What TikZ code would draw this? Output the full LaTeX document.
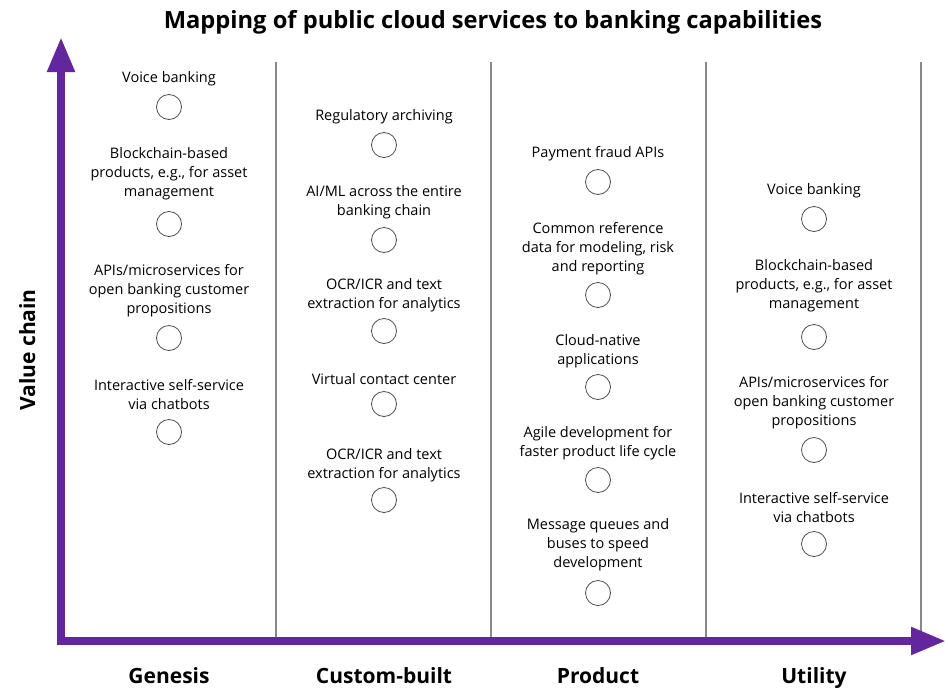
\documentclass[tikz,border=0pt]{standalone}
\usepackage{fontspec}
\setmainfont{Open Sans}
\usetikzlibrary{arrows.meta}
\definecolor{axispurple}{RGB}{99,38,158}
\definecolor{rulegray}{RGB}{136,136,136}
\begin{document}
\begin{tikzpicture}
		[x=1pt,y=-1pt,
		textstyle/.style={align=center,inner sep=0pt,font=\fontsize{14.5}{19}\selectfont},
		spot/.style={circle,draw=black!70,line width=0.8pt,inner sep=0pt,minimum size=25pt},
		heading/.style={inner sep=0pt,anchor=base,font=\fontsize{23.7}{28}\selectfont\bfseries},
		stage/.style={inner sep=0pt,anchor=base,font=\fontsize{21}{25}\selectfont\bfseries},
		divider/.style={rulegray,line width=1.2pt},
		axis/.style={axispurple,line width=8pt}]
		\useasboundingbox (0,0) rectangle (948,689);
		\node at (493, 28) (title) [heading] {Mapping of public cloud services to banking capabilities};
		% column dividers
		\coordinate (d1top) at (276, 62); \coordinate (d1bot) at (276, 641);
		\coordinate (d2top) at (491, 62); \coordinate (d2bot) at (491, 641);
		\coordinate (d3top) at (706, 62); \coordinate (d3bot) at (706, 641);
		\coordinate (d4top) at (921, 62); \coordinate (d4bot) at (921, 641);
		\draw[divider] (d1top) -- (d1bot);
		\draw[divider] (d2top) -- (d2bot);
		\draw[divider] (d3top) -- (d3bot);
		\draw[divider] (d4top) -- (d4bot);
		% axes
		\coordinate (origin) at (61, 645);
		\coordinate (ytip) at (61, 37);
		\coordinate (xstart) at (57, 641);
		\coordinate (xtip) at (946, 641);
		\draw[axis,-{Triangle[width=26pt,length=35pt]}] (origin) -- (ytip);
		\draw[axis,-{Triangle[width=26pt,length=35pt]}] (xstart) -- (xtip);
		\node at (35, 350) (valuechain) [stage,rotate=90] {Value chain};
		\node at (169, 683) (genesis) [stage] {Genesis};
		\node at (384, 683) (custom) [stage] {Custom-built};
		\node at (598, 683) (product) [stage] {Product};
		\node at (814, 683) (utility) [stage] {Utility};
		% Genesis
		\node at (169, 79) (g1) [textstyle] {Voice banking};
		\node at (169, 107) (g1c) [spot] {};
		\node at (169, 174) (g2) [textstyle] {Blockchain-based\\products, e.g., for asset\\management};
		\node at (169, 224) (g2c) [spot] {};
		\node at (169, 291) (g3) [textstyle] {APIs/microservices for\\open banking customer\\propositions};
		\node at (169, 338) (g3c) [spot] {};
		\node at (169, 395) (g4) [textstyle] {Interactive self-service\\via chatbots};
		\node at (169, 432) (g4c) [spot] {};
		% Custom-built
		\node at (384, 117) (c1) [textstyle] {Regulatory archiving};
		\node at (384, 145) (c1c) [spot] {};
		\node at (384, 202) (c2) [textstyle] {AI/ML across the entire\\banking chain};
		\node at (384, 240) (c2c) [spot] {};
		\node at (384, 295) (c3) [textstyle] {OCR/ICR and text\\extraction for analytics};
		\node at (384, 331) (c3c) [spot] {};
		\node at (384, 379) (c4) [textstyle] {Virtual contact center};
		\node at (384, 404) (c4c) [spot] {};
		\node at (384, 465) (c5) [textstyle] {OCR/ICR and text\\extraction for analytics};
		\node at (384, 500) (c5c) [spot] {};
		% Product
		\node at (598, 154) (p1) [textstyle] {Payment fraud APIs};
		\node at (598, 182) (p1c) [spot] {};
		\node at (598, 249) (p2) [textstyle] {Common reference\\data for modeling, risk\\and reporting};
		\node at (598, 295) (p2c) [spot] {};
		\node at (598, 351) (p3) [textstyle] {Cloud-native\\applications};
		\node at (598, 387) (p3c) [spot] {};
		\node at (598, 443) (p4) [textstyle] {Agile development for\\faster product life cycle};
		\node at (598, 480) (p4c) [spot] {};
		\node at (598, 545) (p5) [textstyle] {Message queues and\\buses to speed\\development};
		\node at (598, 593) (p5c) [spot] {};
		% Utility
		\node at (814, 191) (u1) [textstyle] {Voice banking};
		\node at (814, 219) (u1c) [spot] {};
		\node at (814, 286) (u2) [textstyle] {Blockchain-based\\products, e.g., for asset\\management};
		\node at (814, 337) (u2c) [spot] {};
		\node at (814, 403) (u3) [textstyle] {APIs/microservices for\\open banking customer\\propositions};
		\node at (814, 450) (u3c) [spot] {};
		\node at (814, 508) (u4) [textstyle] {Interactive self-service\\via chatbots};
		\node at (814, 544) (u4c) [spot] {};
	\end{tikzpicture}
\end{document}
